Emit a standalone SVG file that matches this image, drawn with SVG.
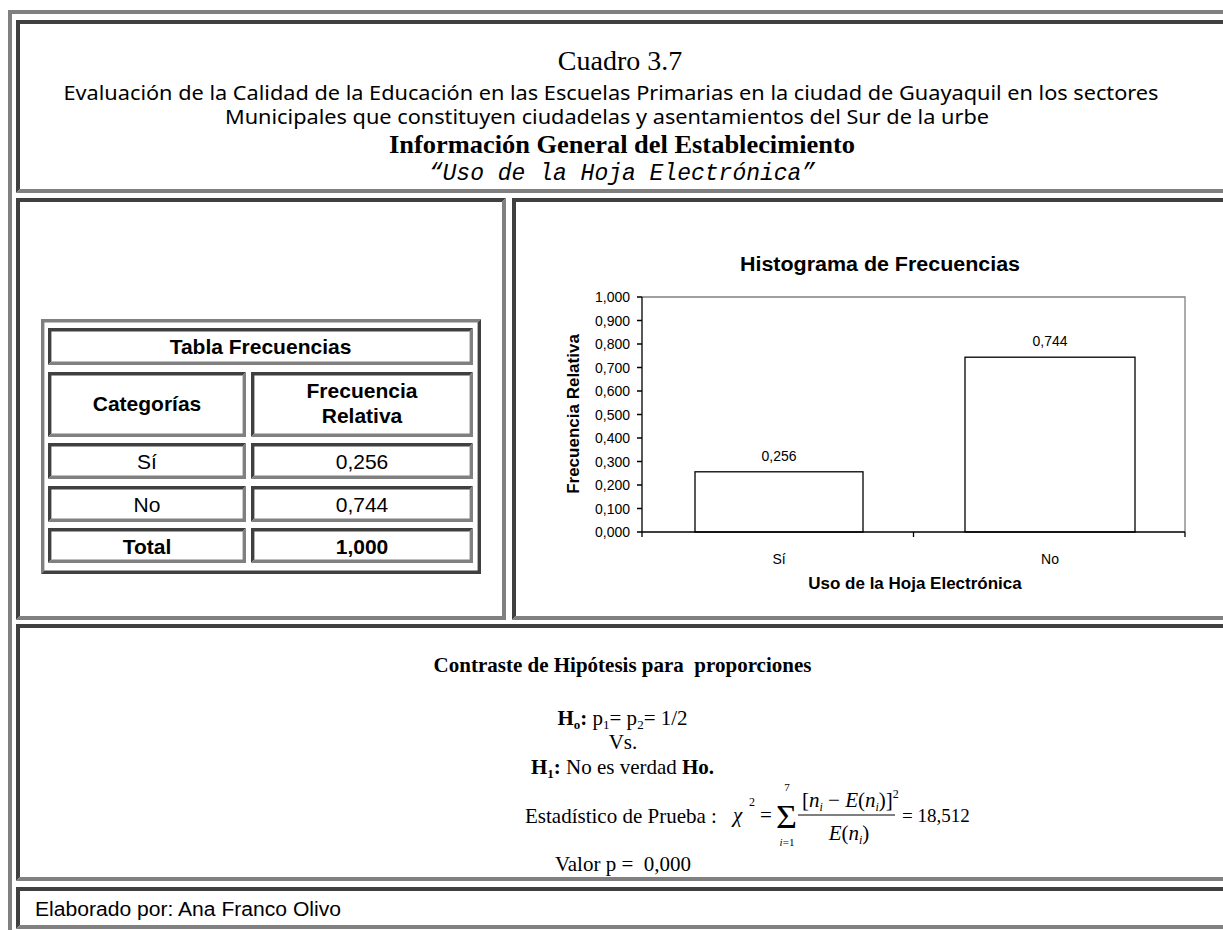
<svg xmlns="http://www.w3.org/2000/svg" width="1223" height="930" viewBox="0 0 1223 930">
<style>
.d{fill:#404040}
.g{fill:#808080}
.ar{font-family:"Liberation Sans",Arial,sans-serif;fill:#000}
.tm{font-family:"Liberation Serif","Times New Roman",serif;fill:#000}
.hs{font-family:"Noto Sans","Open Sans",sans-serif;fill:#000}
.mono{font-family:"Liberation Mono","Courier New",monospace;font-style:italic;fill:#000}
.b{font-weight:bold}
.c{text-anchor:middle}
.e{text-anchor:end}
.tb{font-size:21px}
.ax{stroke:#000;stroke-width:1.3;fill:none}
.bar{stroke:#000;stroke-width:1.3;fill:#fff}
.tk{font-size:14px}
</style>
<rect width="1223" height="930" fill="#fff"/>

<g id="frame">
<polygon class="g" points="8,10 1240,10 1236,14 12,14 12,936 8,940"/>
</g>

<g id="header">
<polygon class="d" points="16,20 1229,20 1225,24 20,24 20,189 16,193"/>
<polygon class="g" points="1229,20 1229,193 16,193 20,189 1225,189 1225,24"/>
<text class="tm c" x="620" y="70" font-size="28">Cuadro 3.7</text>
<text class="hs c" x="611" y="100" font-size="19" textLength="1095" lengthAdjust="spacingAndGlyphs">Evaluación de la Calidad de la Educación en las Escuelas Primarias en la ciudad de Guayaquil en los sectores</text>
<text class="hs c" x="607" y="124" font-size="19" textLength="764" lengthAdjust="spacingAndGlyphs">Municipales que constituyen ciudadelas y asentamientos del Sur de la urbe</text>
<text class="tm b c" x="622" y="153" font-size="26" textLength="466" lengthAdjust="spacingAndGlyphs">Información General del Establecimiento</text>
<text class="mono c" x="622" y="180" font-size="23">“Uso de la Hoja Electrónica”</text>
</g>

<g id="table-panel">
<polygon class="d" points="16,198 506,198 502,202 20,202 20,616 16,620"/>
<polygon class="g" points="506,198 506,620 16,620 20,616 502,616 502,202"/>
<polygon class="g" points="41,319 481,319 477.6,322.4 44.4,322.4 44.4,570.6 41,574"/>
<polygon class="d" points="481,319 481,574 41,574 44.4,570.6 477.6,570.6 477.6,322.4"/>
<g id="cell-title">
<polygon class="d" points="48,328 473,328 469.6,331.4 51.4,331.4 51.4,361.6 48,365"/>
<polygon class="g" points="473,328 473,365 48,365 51.4,361.6 469.6,361.6 469.6,331.4"/>
<text class="ar b c tb" x="260.5" y="354">Tabla Frecuencias</text>
</g>
<g id="cell-cat">
<polygon class="d" points="48,372 246,372 242.6,375.4 51.4,375.4 51.4,433.6 48,437"/>
<polygon class="g" points="246,372 246,437 48,437 51.4,433.6 242.6,433.6 242.6,375.4"/>
<text class="ar b c tb" x="147" y="411">Categorías</text>
</g>
<g id="cell-fr">
<polygon class="d" points="251,372 473,372 469.6,375.4 254.4,375.4 254.4,433.6 251,437"/>
<polygon class="g" points="473,372 473,437 251,437 254.4,433.6 469.6,433.6 469.6,375.4"/>
<text class="ar b c tb" x="362" y="398">Frecuencia</text>
<text class="ar b c tb" x="362" y="423">Relativa</text>
</g>
<g id="cell-si">
<polygon class="d" points="48,443 246,443 242.6,446.4 51.4,446.4 51.4,475.6 48,479"/>
<polygon class="g" points="246,443 246,479 48,479 51.4,475.6 242.6,475.6 242.6,446.4"/>
<text class="ar c tb" x="147" y="469">Sí</text>
</g>
<g id="cell-si-v">
<polygon class="d" points="251,443 473,443 469.6,446.4 254.4,446.4 254.4,475.6 251,479"/>
<polygon class="g" points="473,443 473,479 251,479 254.4,475.6 469.6,475.6 469.6,446.4"/>
<text class="ar c tb" x="362" y="469">0,256</text>
</g>
<g id="cell-no">
<polygon class="d" points="48,486 246,486 242.6,489.4 51.4,489.4 51.4,518.6 48,522"/>
<polygon class="g" points="246,486 246,522 48,522 51.4,518.6 242.6,518.6 242.6,489.4"/>
<text class="ar c tb" x="147" y="512">No</text>
</g>
<g id="cell-no-v">
<polygon class="d" points="251,486 473,486 469.6,489.4 254.4,489.4 254.4,518.6 251,522"/>
<polygon class="g" points="473,486 473,522 251,522 254.4,518.6 469.6,518.6 469.6,489.4"/>
<text class="ar c tb" x="362" y="512">0,744</text>
</g>
<g id="cell-total">
<polygon class="d" points="48,528 246,528 242.6,531.4 51.4,531.4 51.4,559.6 48,563"/>
<polygon class="g" points="246,528 246,563 48,563 51.4,559.6 242.6,559.6 242.6,531.4"/>
<text class="ar b c tb" x="147" y="554">Total</text>
</g>
<g id="cell-total-v">
<polygon class="d" points="251,528 473,528 469.6,531.4 254.4,531.4 254.4,559.6 251,563"/>
<polygon class="g" points="473,528 473,563 251,563 254.4,559.6 469.6,559.6 469.6,531.4"/>
<text class="ar b c tb" x="362" y="554">1,000</text>
</g>
</g>

<g id="chart-panel">
<polygon class="d" points="512,198 1229,198 1225,202 516,202 516,616 512,620"/>
<polygon class="g" points="1229,198 1229,620 512,620 516,616 1225,616 1225,202"/>
<text class="ar b c" x="880" y="271" font-size="20" textLength="280" lengthAdjust="spacingAndGlyphs">Histograma de Frecuencias</text>
<path d="M642,297 H1185 V532" stroke="#808080" stroke-width="1.3" fill="none"/>
<rect class="bar" x="695" y="471.8" width="168" height="60.2"/>
<rect class="bar" x="965" y="357.2" width="170" height="174.8"/>
<path class="ax" d="M642,297 V532 H1185 M637,297 H642 M637,320.5 H642 M637,344 H642 M637,367.5 H642 M637,391 H642 M637,414.5 H642 M637,438 H642 M637,461.5 H642 M637,485 H642 M637,508.5 H642 M637,532 H642 M642,532 V537 M913.5,532 V537 M1185,532 V537"/>
<g class="ar e tk">
<text x="630" y="302">1,000</text>
<text x="630" y="325.5">0,900</text>
<text x="630" y="349">0,800</text>
<text x="630" y="372.5">0,700</text>
<text x="630" y="396">0,600</text>
<text x="630" y="419.5">0,500</text>
<text x="630" y="443">0,400</text>
<text x="630" y="466.5">0,300</text>
<text x="630" y="490">0,200</text>
<text x="630" y="513.5">0,100</text>
<text x="630" y="537">0,000</text>
</g>
<text class="ar c tk" x="779" y="461">0,256</text>
<text class="ar c tk" x="1050" y="346">0,744</text>
<text class="ar c tk" x="779" y="564">Sí</text>
<text class="ar c tk" x="1050" y="564">No</text>
<text class="ar b c" x="915" y="589" font-size="17">Uso de la Hoja Electrónica</text>
<text class="ar b c" font-size="17" transform="translate(579,414) rotate(-90)">Frecuencia Relativa</text>
</g>

<g id="hypothesis-panel">
<polygon class="d" points="16,624 1229,624 1225,628 20,628 20,877 16,881"/>
<polygon class="g" points="1229,624 1229,881 16,881 20,877 1225,877 1225,628"/>
<text class="tm b c" x="622.5" y="672" font-size="21" xml:space="preserve">Contraste de Hipótesis para  proporciones</text>
<text class="tm c" x="622.5" y="725" font-size="21"><tspan font-weight="bold">H</tspan><tspan font-weight="bold" font-size="13" dy="4">o</tspan><tspan font-weight="bold" dy="-4">:</tspan> p<tspan font-size="13" dy="4">1</tspan><tspan dy="-4">= p</tspan><tspan font-size="13" dy="4">2</tspan><tspan dy="-4">= 1/2</tspan></text>
<text class="tm c" x="623" y="749" font-size="21">Vs.</text>
<text class="tm c" x="622.5" y="774" font-size="21"><tspan font-weight="bold">H</tspan><tspan font-weight="bold" font-size="13" dy="4">1</tspan><tspan font-weight="bold" dy="-4">:</tspan> No es verdad <tspan font-weight="bold">Ho.</tspan></text>
<text class="tm" x="525" y="822.7" font-size="21">Estadístico de Prueba :</text>
<text class="tm" x="733" y="822" font-size="21" font-style="italic">χ</text>
<text class="tm" x="749" y="806" font-size="12">2</text>
<text class="tm" x="760" y="822" font-size="21">=</text>
<text class="tm" x="776" y="828" font-size="34" textLength="21" lengthAdjust="spacingAndGlyphs">Σ</text>
<text class="tm c" x="787" y="791" font-size="11">7</text>
<text class="tm c" x="787" y="846" font-size="11"><tspan font-style="italic">i</tspan>=1</text>
<text class="tm" x="802" y="807" font-size="21">[<tspan font-style="italic">n</tspan><tspan font-size="12" font-style="italic" dy="4">i</tspan><tspan dy="-4"> − </tspan><tspan font-style="italic">E</tspan>(<tspan font-style="italic">n</tspan><tspan font-size="12" font-style="italic" dy="4">i</tspan><tspan dy="-4">)]</tspan><tspan font-size="12" dy="-9">2</tspan></text>
<line x1="798" y1="815" x2="895" y2="815" stroke="#000" stroke-width="1"/>
<text class="tm c" x="849" y="840" font-size="21"><tspan font-style="italic">E</tspan>(<tspan font-style="italic">n</tspan><tspan font-size="12" font-style="italic" dy="4">i</tspan><tspan dy="-4">)</tspan></text>
<text class="tm" x="902" y="822" font-size="19">= 18,512</text>
<text class="tm c" x="623" y="870.7" font-size="21" xml:space="preserve">Valor p =  0,000</text>
</g>

<g id="footer">
<polygon class="d" points="16,887 1229,887 1225,891 20,891 20,925 16,929"/>
<polygon class="g" points="1229,887 1229,929 16,929 20,925 1225,925 1225,891"/>
<text class="ar" x="35" y="916" font-size="20" textLength="306" lengthAdjust="spacingAndGlyphs">Elaborado por: Ana Franco Olivo</text>
</g>
</svg>
